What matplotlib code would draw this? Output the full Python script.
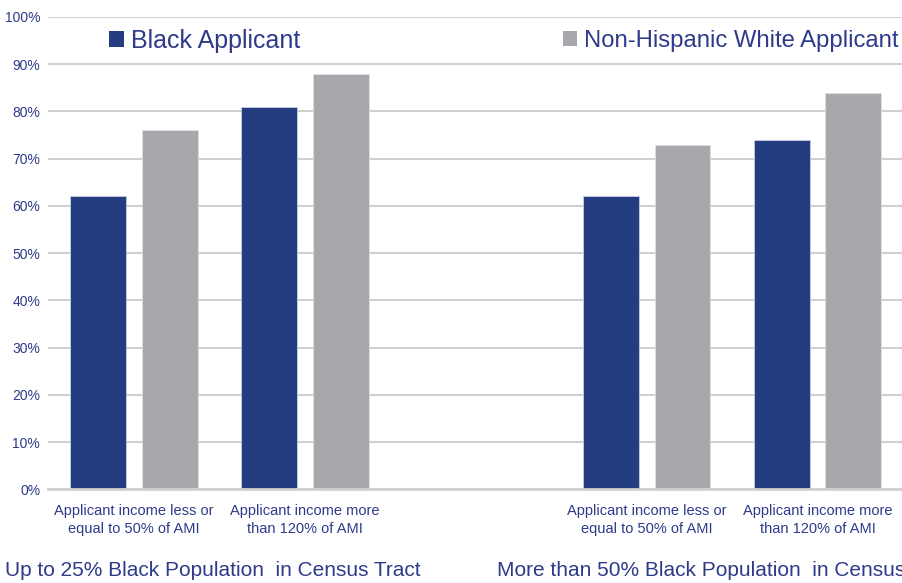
import matplotlib
matplotlib.use("Agg")
import matplotlib.pyplot as plt
from matplotlib.patches import Patch
import numpy as np

groups = ["Up to 25% Black Population in Census Tract",
          "More than 50% Black Population in Census Tract"]
categories = ["Applicant income less or\nequal to 50% of AMI",
              "Applicant income more\nthan 120% of AMI",
              "Applicant income less or\nequal to 50% of AMI",
              "Applicant income more\nthan 120% of AMI"]
black_values = [62, 81, 62, 74]
white_values = [76, 88, 73, 84]
series_names = ["Black Applicant", "Non-Hispanic White Applicant"]
yticks = [0, 10, 20, 30, 40, 50, 60, 70, 80, 90, 100]

BLUE = "#243c80"
GRAY = "#a7a8ac"
TEXT = "#2e3a8a"
GRID = "#d0d0d0"

plt.rcParams['font.family'] = ['Liberation Sans', 'DejaVu Sans']

fig = plt.figure(figsize=(9.03, 5.83), dpi=100)
ax = fig.add_axes([48.5 / 903, 93.7 / 583, 1 - 48.5 / 903, (489.3 - 17) / 583])

x = np.array([0, 1, 3, 4])
w = 0.327
off = 0.21
ax.bar(x - off, black_values, width=w, color=BLUE, edgecolor="#c9cde0", linewidth=0.6, zorder=3)
ax.bar(x + off, white_values, width=w, color=GRAY, edgecolor="#e0e0e2", linewidth=0.6, zorder=3)

ax.set_xlim(-0.5, 4.5)
ax.set_ylim(0, 100)
ax.set_yticks(yticks)
ax.set_yticklabels([f"{v}%" for v in yticks], color=TEXT, fontsize=10)
ax.tick_params(axis='y', length=0, pad=6)
ax.tick_params(axis='x', length=0)
ax.set_xticks([])
for s in ax.spines.values():
    s.set_visible(False)
ax.yaxis.grid(True, color=GRID, linewidth=1.5, zorder=0)
ax.set_axisbelow(True)
ax.axhline(0, color=GRID, linewidth=2, zorder=4, clip_on=False)

for xi, lab in zip(x, categories):
    ax.text(xi, -3.2, lab, ha='center', va='top', fontsize=10.5, color=TEXT,
            linespacing=1.35, transform=ax.transData)

title_x = [5 / 903, 497 / 903]
for tx, g in zip(title_x, groups):
    fig.text(tx, (583 - 570) / 583, g.replace("Population in", "Population  in"),
             ha='left', va='center', fontsize=15, color=TEXT)

h1 = [Patch(facecolor=BLUE, edgecolor='none')]
h2 = [Patch(facecolor=GRAY, edgecolor='none')]
for h, name, px, fs in [(h1, series_names[0], 109, 18), (h2, series_names[1], 563, 17.2)]:
    leg = fig.legend(h, [name], loc='center left',
                     bbox_to_anchor=(px / 903, (583 - 41) / 583),
                     frameon=False, fontsize=fs, handlelength=0.6, handleheight=0.6,
                     handletextpad=0.3, borderpad=0, borderaxespad=0)
    for t in leg.get_texts():
        t.set_color(TEXT)

fig.savefig("out.png", dpi=100)
